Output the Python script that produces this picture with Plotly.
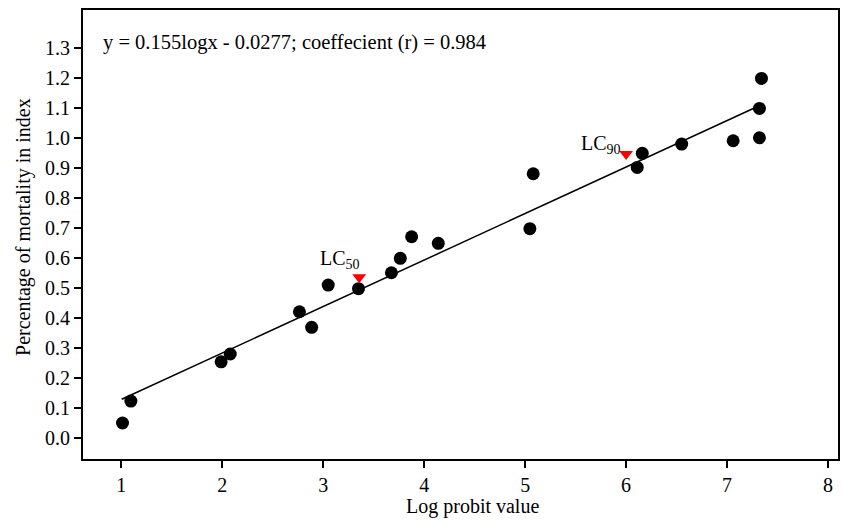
import plotly.graph_objects as go

# Observed data
log_probit = [1.013, 1.096, 1.99, 2.08, 2.765, 2.886, 3.05, 3.35, 3.676, 3.764, 3.876,
              4.14, 5.047, 5.08, 6.11, 6.16, 6.55, 7.06, 7.32, 7.32, 7.34]
mortality = [0.049, 0.122, 0.253, 0.279, 0.42, 0.368, 0.509, 0.497, 0.55, 0.598, 0.67,
             0.648, 0.697, 0.88, 0.901, 0.948, 0.979, 0.99, 1.0, 1.098, 1.198]

# Lethal concentration markers
lc_names = ["50", "90"]
lc_x = [3.357, 6.0]
lc_y = [0.535, 0.946]

# Regression line
slope = 0.155
intercept = -0.0277
line_x = [1.005, 7.27]
line_y = [slope * v + intercept for v in line_x]

equation_text = "y = 0.155logx - 0.0277; coeffecient (r) = 0.984"
x_title = "Log probit value"
y_title = "Percentage of mortality in index"
x_ticks = [1, 2, 3, 4, 5, 6, 7, 8]
y_ticks = [round(0.1 * i, 1) for i in range(14)]

FONT = "Liberation Serif"

fig = go.Figure()
fig.add_trace(go.Scatter(x=line_x, y=line_y, mode="lines",
                         line=dict(color="black", width=1.5), showlegend=False,
                         hoverinfo="skip"))
fig.add_trace(go.Scatter(x=log_probit, y=mortality, mode="markers",
                         marker=dict(color="black", size=13, line=dict(width=0)),
                         showlegend=False))
fig.add_trace(go.Scatter(x=lc_x, y=lc_y, mode="markers",
                         marker=dict(color="#ff0000", size=12, symbol="triangle-down",
                                     line=dict(width=0)),
                         showlegend=False))

axis_common = dict(showline=True, linecolor="black", linewidth=2, mirror=True,
                   ticks="outside", ticklen=7, tickwidth=1.5, tickcolor="black",
                   showgrid=False, zeroline=False,
                   tickfont=dict(family=FONT, size=20, color="black"))

fig.update_xaxes(range=[0.622, 8.098], tickvals=x_ticks,
                 ticktext=[str(t) for t in x_ticks], **axis_common)
fig.update_yaxes(range=[-0.071, 1.426], tickvals=y_ticks,
                 ticktext=[f"{t:.1f}" for t in y_ticks], **axis_common)

annotations = [
    dict(x=0.803, y=1.316, xref="x", yref="y", text=equation_text, showarrow=False,
         xanchor="left", yanchor="middle", font=dict(family=FONT, size=20.5, color="black")),
    dict(x=0.5165, y=-0.1047, xref="paper", yref="paper", text=x_title, showarrow=False,
         xanchor="center", yanchor="middle", font=dict(family=FONT, size=20, color="black")),
    dict(x=-0.078, y=0.517, xref="paper", yref="paper", text=y_title, showarrow=False,
         textangle=-90, xanchor="center", yanchor="middle",
         font=dict(family=FONT, size=20, color="black")),
]
label_x = [3.167, 5.748]
label_y = [0.595, 0.978]
for name, lx, ly in zip(lc_names, label_x, label_y):
    annotations.append(dict(x=lx, y=ly, xref="x", yref="y",
                            text=f"LC<sub>{name}</sub>", showarrow=False,
                            xanchor="center", yanchor="middle",
                            font=dict(family=FONT, size=20, color="black")))

fig.update_layout(width=842, height=520, margin=dict(l=83, r=2, t=10, b=61),
                  plot_bgcolor="white", paper_bgcolor="white",
                  annotations=annotations, showlegend=False)

fig.write_html("out.html", config={"displayModeBar": False},
               post_script="document.body.style.margin='0';")
